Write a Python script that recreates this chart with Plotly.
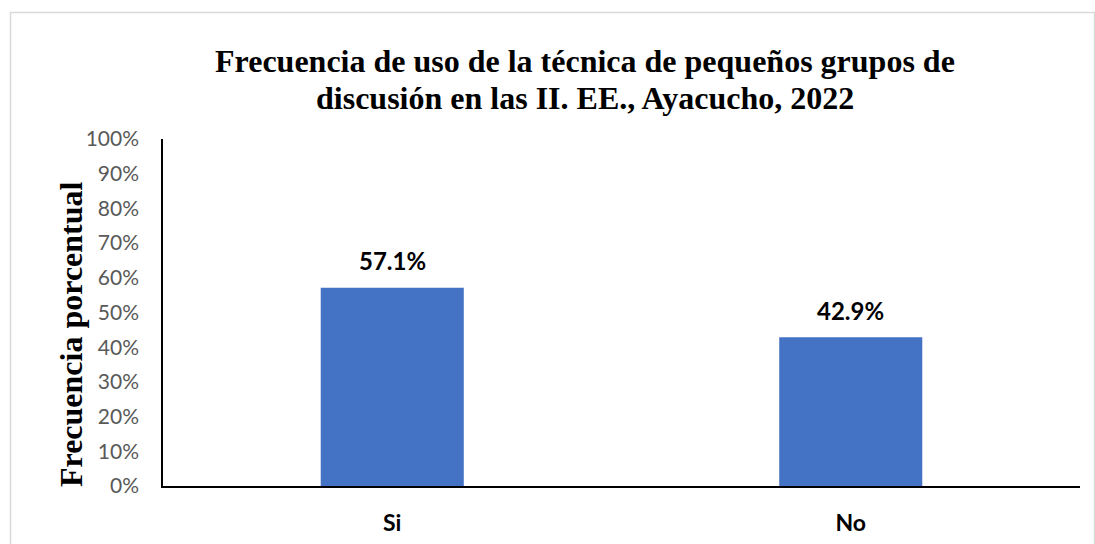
import plotly.graph_objects as go

categories = ["Si", "No"]
values = [57.1, 42.9]
value_labels = ["57.1%", "42.9%"]
tick_vals = [0, 10, 20, 30, 40, 50, 60, 70, 80, 90, 100]
tick_text = ["0%", "10%", "20%", "30%", "40%", "50%", "60%", "70%", "80%", "90%", "100%"]
title_lines = ["Frecuencia de uso de la técnica de pequeños grupos de",
               "discusión en las II. EE., Ayacucho, 2022"]

W, H = 1095, 544
L, R, T, B = 163, 15, 139, 58
pw = W - L - R
ph = H - T - B

fig = go.Figure()
fig.add_trace(go.Bar(x=categories, y=values, marker_color="#4472C4",
                     marker_line_width=0, width=0.312))

for c, v, t in zip(categories, values, value_labels):
    fig.add_annotation(x=c, y=v, text="<b>" + t + "</b>", showarrow=False,
                       yshift=27, font=dict(family="Lato", size=24, color="#000000"))

# title (two lines)
for line, yc in zip(title_lines, [61, 98]):
    fig.add_annotation(xref="paper", yref="paper",
                       x=(585 - L) / pw, y=(H - B - yc) / ph,
                       text="<b>" + line + "</b>",
                       showarrow=False, xanchor="center", yanchor="middle",
                       font=dict(family="Liberation Serif", size=32, color="#000000"))
# y title
fig.add_annotation(xref="paper", yref="paper",
                   x=(71 - L) / pw, y=(H - B - 334) / ph,
                   text="<b>Frecuencia porcentual</b>", textangle=-90,
                   showarrow=False, xanchor="center", yanchor="middle",
                   font=dict(family="Liberation Serif", size=32, color="#000000"))

# outer frame
fig.add_shape(type="rect", xref="paper", yref="paper",
              x0=(10.5 - L) / pw, x1=(1094.5 - L) / pw,
              y0=(H - B - 560) / ph, y1=(H - B - 12.5) / ph,
              line=dict(color="#D9D9D9", width=1.5), layer="below")

fig.update_layout(
    width=W, height=H,
    margin=dict(l=L, r=R, t=T, b=B, autoexpand=False),
    paper_bgcolor="white", plot_bgcolor="white",
    showlegend=False,
    xaxis=dict(showline=True, linecolor="#000000", linewidth=2, automargin=False,
               showgrid=False, ticks="", ticklabelstandoff=15,
               tickfont=dict(family="Lato", size=23, color="#000000", weight="bold")),
    yaxis=dict(range=[0, 100], tickvals=tick_vals, ticktext=tick_text, automargin=False,
               showline=True, linecolor="#000000", linewidth=1.5,
               showgrid=False, ticks="", ticklabelstandoff=18, zeroline=False,
               tickfont=dict(family="Lato", size=21, color="#595959")),
)

fig.write_html("out.html", config={"displayModeBar": False},
               post_script="document.body.style.margin='0';document.body.style.overflow='hidden';")
